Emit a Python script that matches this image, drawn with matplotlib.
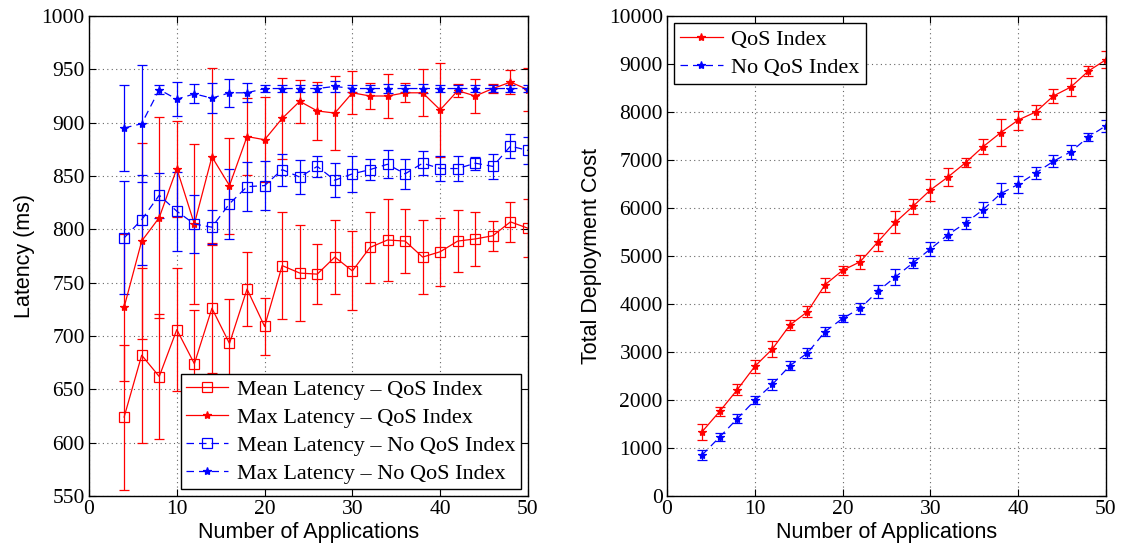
import numpy as np
import matplotlib
matplotlib.use('Agg')
import matplotlib.pyplot as plt

# number of applications
apps = [4, 6, 8, 10, 12, 14, 16, 18, 20, 22, 24, 26, 28, 30, 32, 34, 36, 38, 40, 42, 44, 46, 48, 50]

# left panel: latency (ms)
mean_qos = [624, 682, 662, 706, 674, 726, 693, 744, 709, 766, 759, 758, 774, 761, 783, 790, 789, 774, 779, 789, 791, 794, 807, 801]
mean_qos_err = [68, 82, 59, 58, 50, 61, 42, 35, 27, 50, 45, 28, 35, 37, 33, 38, 30, 35, 32, 29, 25, 14, 19, 27]
max_qos = [727, 789, 811, 857, 805, 868, 841, 887, 884, 904, 920, 911, 909, 928, 925, 925, 928, 928, 912, 930, 925, 932, 938, 931]
max_qos_err = [69, 92, 94, 45, 75, 83, 45, 36, 40, 38, 20, 27, 35, 20, 12, 21, 9, 22, 44, 6, 16, 4, 11, 20]
mean_noqos = [792, 809, 832, 817, 805, 802, 824, 840, 841, 856, 849, 859, 846, 852, 856, 861, 852, 862, 857, 857, 862, 859, 878, 874]
mean_noqos_err = [53, 42, 21, 37, 27, 16, 33, 23, 23, 15, 16, 10, 16, 17, 10, 13, 14, 11, 12, 12, 6, 12, 11, 13]
max_noqos = [895, 899, 931, 922, 927, 923, 928, 928, 932, 932, 932, 932, 934, 932, 932, 932, 932, 932, 932, 932, 932, 932, 932, 932]
max_noqos_err = [40, 55, 4, 16, 9, 14, 13, 9, 3, 3, 3, 3, 5, 3, 3, 4, 3, 4, 3, 3, 3, 3, 3, 3]

# right panel: total deployment cost
cost_qos = [1340, 1763, 2214, 2700, 3062, 3562, 3840, 4402, 4700, 4880, 5291, 5700, 6033, 6375, 6646, 6944, 7277, 7569, 7833, 8000, 8333, 8521, 8854, 9090]
cost_qos_err = [170, 87, 115, 135, 167, 111, 115, 150, 90, 150, 194, 229, 150, 236, 188, 100, 156, 285, 198, 146, 150, 188, 108, 174]
cost_noqos = [854, 1229, 1610, 1992, 2325, 2715, 2979, 3423, 3700, 3910, 4263, 4562, 4854, 5146, 5444, 5687, 5965, 6298, 6493, 6729, 6972, 7173, 7479, 7715]
cost_noqos_err = [94, 80, 90, 83, 111, 97, 97, 100, 70, 115, 142, 174, 108, 153, 118, 125, 156, 215, 174, 118, 125, 146, 76, 125]

red = '#ff0000'
blue = '#0000ff'
serif = 'Liberation Serif'
sans = 'Liberation Sans'

fig = plt.figure(figsize=(11.24, 5.51), dpi=100)
ax1 = fig.add_axes([89 / 1124, 55 / 551, 439 / 1124, 480 / 551])
ax2 = fig.add_axes([667 / 1124, 55 / 551, 439 / 1124, 480 / 551])

common = dict(capsize=3.5, elinewidth=0.9, lw=0.9, mew=0.9)

h1 = ax1.errorbar(apps, mean_qos, yerr=mean_qos_err, color=red, marker='s', ms=7.5, mfc='none', ls='-', **common)
h2 = ax1.errorbar(apps, max_qos, yerr=max_qos_err, color=red, marker='*', ms=6, ls='-', **common)
h3 = ax1.errorbar(apps, mean_noqos, yerr=mean_noqos_err, color=blue, marker='s', ms=7.5, mfc='none', ls='--', dashes=(6, 4), **common)
h4 = ax1.errorbar(apps, max_noqos, yerr=max_noqos_err, color=blue, marker='*', ms=6, ls='--', dashes=(6, 4), **common)

g1 = ax2.errorbar(apps, cost_qos, yerr=cost_qos_err, color=red, marker='*', ms=6, ls='-', **common)
g2 = ax2.errorbar(apps, cost_noqos, yerr=cost_noqos_err, color=blue, marker='*', ms=6, ls='--', dashes=(6, 4), **common)

ax1.set_xlim(0, 50)
ax1.set_ylim(550, 1000)
ax1.set_yticks(np.arange(550, 1001, 50))
ax2.set_xlim(0, 50)
ax2.set_ylim(0, 10000)
ax2.set_yticks(np.arange(0, 10001, 1000))

for ax in (ax1, ax2):
    ax.set_xticks([0, 10, 20, 30, 40, 50])
    ax.grid(True, linestyle=(0, (1, 3)), color='0.4', linewidth=0.8)
    ax.tick_params(direction='in', top=True, right=True, length=5, width=0.8, labelsize=15.5, pad=3)
    for lab in ax.get_xticklabels() + ax.get_yticklabels():
        lab.set_fontfamily(serif)
    for sp in ax.spines.values():
        sp.set_linewidth(1.0)
    ax.set_xlabel('Number of Applications', fontsize=15.5, family=sans, labelpad=2)

ax1.set_ylabel('Latency (ms)', fontsize=15.5, family=sans, labelpad=5)
ax2.set_ylabel('Total Deployment Cost', fontsize=15.5, family=sans, labelpad=5)

leg1 = ax1.legend([h1[0], h2[0], h3[0], h4[0]],
                  ['Mean Latency \u2013 QoS Index', 'Max Latency \u2013 QoS Index',
                   'Mean Latency \u2013 No QoS Index', 'Max Latency \u2013 No QoS Index'],
                  loc='lower right', prop={'family': serif, 'size': 16}, fancybox=False,
                  framealpha=1, edgecolor='black', handlelength=1.9, labelspacing=0.33,
                  borderpad=0.25, handletextpad=0.4, borderaxespad=0.3)
leg1.get_frame().set_linewidth(1.0)

leg2 = ax2.legend([g1[0], g2[0]], ['QoS Index', 'No QoS Index'],
                  loc='upper left', prop={'family': serif, 'size': 16}, fancybox=False,
                  framealpha=1, edgecolor='black', handlelength=1.9, labelspacing=0.33,
                  borderpad=0.3, handletextpad=0.4, borderaxespad=0.3)
leg2.get_frame().set_linewidth(1.0)

plt.savefig('out.png', dpi=100)
plt.close()
